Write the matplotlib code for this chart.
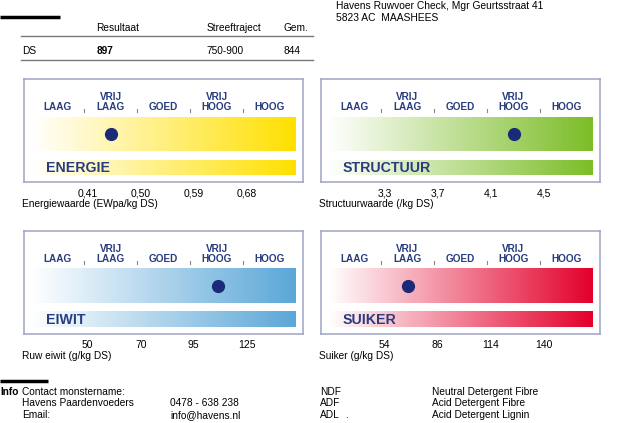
import matplotlib
matplotlib.use("Agg")
import matplotlib.pyplot as plt
import numpy as np
from matplotlib.colors import LinearSegmentedColormap

# --- data ---
header_cols = ["Resultaat", "Streeftraject", "Gem."]
ds_row = ["DS", "897", "750-900", "844"]

categories = [("LAAG",), ("VRIJ", "LAAG"), ("GOED",), ("VRIJ", "HOOG"), ("HOOG",)]

panel_names = ["ENERGIE", "STRUCTUUR", "EIWIT", "SUIKER"]
panel_titles = ["Energiewaarde (EWpa/kg DS)", "Structuurwaarde (/kg DS)",
                "Ruw eiwit (g/kg DS)", "Suiker (g/kg DS)"]
panel_ticks = [[0.41, 0.50, 0.59, 0.68], [3.3, 3.7, 4.1, 4.5],
               [50, 70, 95, 125], [54, 86, 114, 140]]
panel_ticklabels = [["0,41", "0,50", "0,59", "0,68"], ["3,3", "3,7", "4,1", "4,5"],
                    ["50", "70", "95", "125"], ["54", "86", "114", "140"]]
panel_values = [0.456, 4.3, 111, 70]
panel_colors = ["#ffe000", "#7cbd27", "#5ba7d8", "#e3002b"]

info_left = [("Contact monstername:", ""), ("Havens Paardenvoeders", "0478 - 638 238"),
             ("Email:", "info@havens.nl")]
abbrevs = [("NDF", "Neutral Detergent Fibre"), ("ADF", "Acid Detergent Fibre"),
           ("ADL", "Acid Detergent Lignin")]

W, H = 633, 423
navy = "#283c7e"
dot = "#1b2a78"
body = "Liberation Sans"

fig = plt.figure(figsize=(W / 100, H / 100), dpi=100)
page = fig.add_axes([0, 0, 1, 1])
page.set_xlim(0, W)
page.set_ylim(H, 0)
page.axis("off")

def txt(x, y, s, **kw):
    kw.setdefault("fontsize", 7.3)
    kw.setdefault("family", body)
    kw.setdefault("va", "center")
    page.text(x, y, s, **kw)

# header block
page.plot([0, 60], [17, 17], color="black", lw=2.5, solid_capstyle="butt")
txt(336, 6, "Havens Ruwvoer Check, Mgr Geurtsstraat 41", fontsize=7.4)
txt(336, 18, "5823 AC  MAASHEES", fontsize=7.4)
for x, s in zip([96, 207, 283], header_cols):
    txt(x, 28, s)
page.plot([21, 313], [36, 36], color="#777777", lw=1)
for x, s in zip([22, 97, 207, 283], ds_row):
    txt(x, 51, s, fontweight="bold" if s == ds_row[1] else "normal")
page.plot([21, 313], [60, 60], color="#777777", lw=1)

# gauge panels
boxes = [(24, 79), (321, 79), (24, 231), (321, 231)]
bw, bh = 279, 103
for i, (bx, by) in enumerate(boxes):
    ax = fig.add_axes([bx / W, 1 - (by + bh) / H, bw / W, bh / H])
    x0 = -7 / 53
    ax.set_xlim(x0, x0 + bw / 53)
    ax.set_ylim(bh, 0)
    ax.set_xticks([])
    ax.set_yticks([])
    for sp in ax.spines.values():
        sp.set_color("#9ea3c2")
        sp.set_linewidth(1.1)
    cmap = LinearSegmentedColormap.from_list("g", ["#ffffff", panel_colors[i]])
    grad = np.linspace(0, 1, 256).reshape(1, -1)
    ax.imshow(grad, cmap=cmap, extent=[0, 5, 72, 38], aspect="auto")
    ax.imshow(grad, cmap=cmap, extent=[0, 5, 96, 81], aspect="auto")
    for k, lab in enumerate(categories):
        ys = [28] if len(lab) == 1 else [18, 28]
        for y, s in zip(ys, lab):
            ax.text(k + 0.5, y, s, ha="center", va="center", color=navy,
                    fontsize=7.2, fontweight="bold", family=body)
    for k in range(1, 5):
        ax.plot([k, k], [30, 33], color="#888888", lw=0.8)
    ax.text(0.28, 88.5, panel_names[i], ha="left", va="center", color=navy,
            fontsize=10.2, fontweight="bold", family=body)
    xv = np.interp(panel_values[i], panel_ticks[i], [1, 2, 3, 4])
    ax.scatter([xv], [55], s=72, color=dot, zorder=5)
    for k, lab in enumerate(panel_ticklabels[i]):
        ax.text(k + 1.07, 114, lab, ha="center", va="center", fontsize=7.5,
                family=body, clip_on=False)
    ax.text(x0 - 2 / 53, 125, panel_titles[i], ha="left", va="center",
            fontsize=7.3, family=body, clip_on=False)

# footer
page.plot([0, 48], [381, 381], color="black", lw=2.5, solid_capstyle="butt")
txt(0.5, 392, "Info", ha="left", fontweight="bold")
for j, (a, b) in enumerate(info_left):
    txt(22, 392 + 11.5 * j, a)
    if b:
        txt(170, 392 + 11.5 * j, b)
for j, (a, b) in enumerate(abbrevs):
    txt(320, 392 + 11.5 * j, a)
    txt(432, 392 + 11.5 * j, b)
txt(345, 415, ".")

fig.savefig("out.png", dpi=100)
